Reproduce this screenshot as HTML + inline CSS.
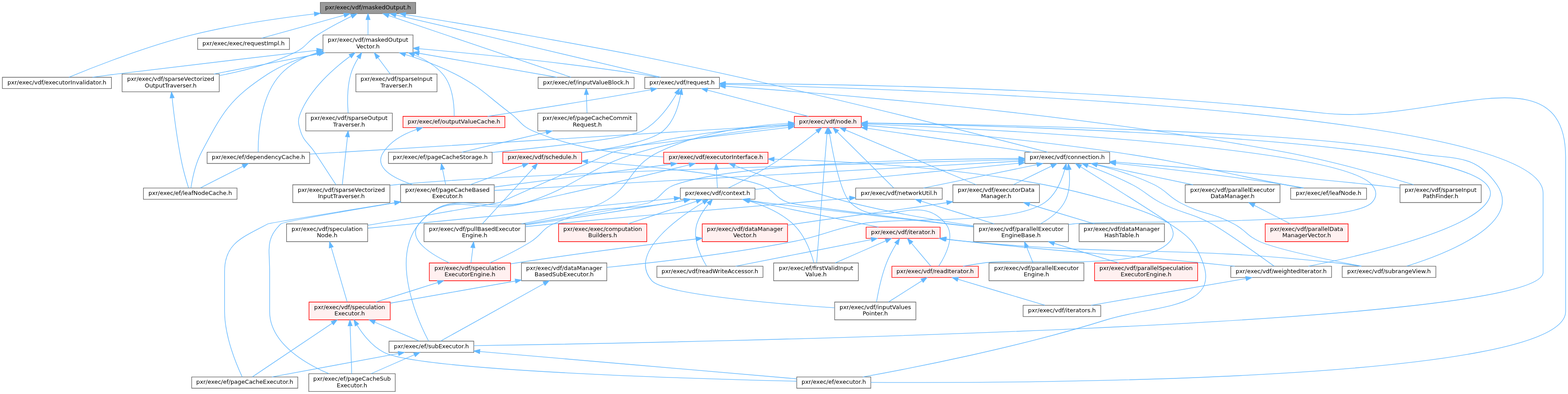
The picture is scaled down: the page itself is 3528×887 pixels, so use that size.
<!DOCTYPE html>
<html lang="en">
<head>
<meta charset="utf-8">
<title>pxr/exec/vdf/maskedOutput.h</title>
<style>
html,body{margin:0;padding:0;background:#ffffff;}
svg{display:block;will-change:transform;}
svg text{font-family:"DejaVu Sans","Liberation Sans",sans-serif;font-size:9.75px;text-anchor:middle;fill:#000000;}
</style>
</head>
<body>
<svg width="3528" height="886.667" viewBox="0 0 2646 665">
<g class="graph" transform="scale(1 1) rotate(0) translate(4 661)">
<g class="node">
<polygon fill="#999999" stroke="#666666" points="697.5,-657 536.5,-657 536.5,-638 697.5,-638 697.5,-657"/>
<text x="617" y="-645.15">pxr/exec/vdf/maskedOutput.h</text>
</g>
<g class="node">
<polygon fill="white" stroke="#666666" points="1066,-530.5 904,-530.5 904,-511.5 1066,-511.5 1066,-530.5"/>
<text x="985" y="-518.65">pxr/exec/ef/inputValueBlock.h</text>
</g>
<g class="edge">
<path fill="none" stroke="#63b8ff" d="M652.03,-634.65C725.69,-609.73 895.13,-552.41 959.53,-530.62"/>
<polygon fill="#63b8ff" stroke="#63b8ff" points="650.65,-631.42 642.29,-637.94 652.89,-638.05 650.65,-631.42"/>
</g>
<g class="node">
<polygon fill="white" stroke="#666666" points="484.5,-596.5 329.5,-596.5 329.5,-577.5 484.5,-577.5 484.5,-596.5"/>
<text x="407" y="-584.65">pxr/exec/exec/requestImpl.h</text>
</g>
<g class="edge">
<path fill="none" stroke="#63b8ff" d="M576.62,-635.25C536.01,-623.94 474.29,-606.75 437.57,-596.52"/>
<polygon fill="#63b8ff" stroke="#63b8ff" points="575.89,-638.68 586.46,-637.99 577.77,-631.94 575.89,-638.68"/>
</g>
<g class="node">
<polygon fill="white" stroke="#666666" points="1868.5,-404 1725.5,-404 1725.5,-385 1868.5,-385 1868.5,-404"/>
<text x="1797" y="-392.15">pxr/exec/vdf/connection.h</text>
</g>
<g class="edge">
<path fill="none" stroke="#63b8ff" d="M680.68,-636.36C734.62,-627.66 813.97,-614.55 883,-602 1032.73,-574.78 1070.36,-568.65 1219,-536 1427.54,-490.2 1676.24,-426.74 1764.21,-404.01"/>
<polygon fill="#63b8ff" stroke="#63b8ff" points="679.89,-632.95 670.57,-637.99 681,-639.86 679.89,-632.95"/>
</g>
<g class="node">
<polygon fill="white" stroke="#666666" points="184,-530.5 0,-530.5 0,-511.5 184,-511.5 184,-530.5"/>
<text x="92" y="-518.65">pxr/exec/vdf/executorInvalidator.h</text>
</g>
<g class="edge">
<path fill="none" stroke="#63b8ff" d="M526.38,-637.42C467.11,-630.38 388.29,-618.94 320,-602 241.42,-582.51 151.73,-546.94 112.35,-530.61"/>
<polygon fill="#63b8ff" stroke="#63b8ff" points="526.13,-640.91 536.47,-638.6 526.94,-633.96 526.13,-640.91"/>
</g>
<g class="node">
<polygon fill="white" stroke="#666666" points="693,-602 541,-602 541,-572 693,-572 693,-602"/>
<text x="617" y="-590.15">pxr/exec/vdf/maskedOutput</text>
<text x="617" y="-579.15">Vector.h</text>
</g>
<g class="edge">
<path fill="none" stroke="#63b8ff" d="M617,-627.65C617,-619.36 617,-609.78 617,-602.11"/>
<polygon fill="#63b8ff" stroke="#63b8ff" points="613.5,-627.87 617,-637.87 620.5,-627.87 613.5,-627.87"/>
</g>
<g class="node">
<polygon fill="white" stroke="#666666" points="1210,-530.5 1084,-530.5 1084,-511.5 1210,-511.5 1210,-530.5"/>
<text x="1147" y="-518.65">pxr/exec/vdf/request.h</text>
</g>
<g class="edge">
<path fill="none" stroke="#63b8ff" d="M664.16,-635.63C703.03,-626.66 759.61,-613.57 809,-602 919.09,-576.21 1049.23,-545.29 1111,-530.58"/>
<polygon fill="#63b8ff" stroke="#63b8ff" points="663.14,-632.28 654.18,-637.94 664.71,-639.1 663.14,-632.28"/>
</g>
<g class="node">
<polygon fill="white" stroke="#666666" points="366,-536 202,-536 202,-506 366,-506 366,-536"/>
<text x="284" y="-524.15">pxr/exec/vdf/sparseVectorized</text>
<text x="284" y="-513.15">OutputTraverser.h</text>
</g>
<g class="edge">
<path fill="none" stroke="#63b8ff" d="M588.91,-633.33C572.01,-625.03 550.3,-613.7 532,-602 513.58,-590.22 512.74,-581.42 493,-572 453.27,-553.04 405.76,-540.93 366.08,-533.39"/>
<polygon fill="#63b8ff" stroke="#63b8ff" points="587.72,-636.64 598.24,-637.84 590.77,-630.34 587.72,-636.64"/>
</g>
<g class="node">
<polygon fill="white" stroke="#666666" points="1070.5,-470 903.5,-470 903.5,-440 1070.5,-440 1070.5,-470"/>
<text x="987" y="-458.15">pxr/exec/ef/pageCacheCommit</text>
<text x="987" y="-447.15">Request.h</text>
</g>
<g class="edge">
<path fill="none" stroke="#63b8ff" d="M985.58,-501.35C985.89,-491.47 986.27,-479.51 986.55,-470.36"/>
<polygon fill="#63b8ff" stroke="#63b8ff" points="982.08,-501.26 985.27,-511.37 989.08,-501.48 982.08,-501.26"/>
</g>
<g class="node">
<polygon fill="white" stroke="#666666" points="826.5,-404 651.5,-404 651.5,-385 826.5,-385 826.5,-404"/>
<text x="739" y="-392.15">pxr/exec/ef/pageCacheStorage.h</text>
</g>
<g class="edge">
<path fill="none" stroke="#63b8ff" d="M917.64,-437.64C871.41,-426.73 812.51,-412.84 775.26,-404.05"/>
<polygon fill="#63b8ff" stroke="#63b8ff" points="917.06,-441.1 927.6,-439.99 918.67,-434.29 917.06,-441.1"/>
</g>
<g class="node">
<polygon fill="white" stroke="#666666" points="830,-349 672,-349 672,-319 830,-319 830,-349"/>
<text x="751" y="-337.15">pxr/exec/ef/pageCacheBased</text>
<text x="751" y="-326.15">Executor.h</text>
</g>
<g class="edge">
<path fill="none" stroke="#63b8ff" d="M742.81,-374.93C744.52,-366.58 746.51,-356.87 748.1,-349.11"/>
<polygon fill="#63b8ff" stroke="#63b8ff" points="739.35,-374.37 740.77,-384.87 746.21,-375.78 739.35,-374.37"/>
</g>
<g class="node">
<polygon fill="white" stroke="#666666" points="498.5,-24.5 319.5,-24.5 319.5,-5.5 498.5,-5.5 498.5,-24.5"/>
<text x="409" y="-12.65">pxr/exec/ef/pageCacheExecutor.h</text>
</g>
<g class="edge">
<path fill="none" stroke="#63b8ff" d="M661.77,-318.63C573.25,-304.32 450.39,-284.3 448,-283 405.7,-260.04 375,-251.13 375,-203 375,-203 375,-203 375,-135 375,-92.24 395.54,-44.05 404.69,-24.71"/>
<polygon fill="#63b8ff" stroke="#63b8ff" points="661.41,-322.12 671.84,-320.26 662.53,-315.21 661.41,-322.12"/>
</g>
<g class="node">
<polygon fill="white" stroke="#666666" points="663,-30 517,-30 517,0 663,0 663,-30"/>
<text x="590" y="-18.15">pxr/exec/ef/pageCacheSub</text>
<text x="590" y="-7.15">Executor.h</text>
</g>
<g class="edge">
<path fill="none" stroke="#63b8ff" d="M661.64,-318.29C580.72,-304.78 473.57,-286.37 470,-283 443.43,-257.91 451,-239.54 451,-203 451,-203 451,-203 451,-135 451,-82.11 509.8,-47.68 550.91,-30.07"/>
<polygon fill="#63b8ff" stroke="#63b8ff" points="661.43,-321.8 671.87,-319.99 662.58,-314.9 661.43,-321.8"/>
</g>
<g class="edge">
<path fill="none" stroke="#63b8ff" d="M1714.85,-388.91C1518.4,-377.92 1023.47,-350.24 830.12,-339.43"/>
<polygon fill="#63b8ff" stroke="#63b8ff" points="1714.92,-392.42 1725.1,-389.48 1715.32,-385.43 1714.92,-392.42"/>
</g>
<g class="node">
<polygon fill="white" stroke="#666666" points="2302,-343.5 2174,-343.5 2174,-324.5 2302,-324.5 2302,-343.5"/>
<text x="2238" y="-331.65">pxr/exec/ef/leafNode.h</text>
</g>
<g class="edge">
<path fill="none" stroke="#63b8ff" d="M1879.06,-385.22C1953.79,-377.29 2067.08,-364.29 2165,-349 2175.07,-347.43 2185.88,-345.49 2196.01,-343.57"/>
<polygon fill="#63b8ff" stroke="#63b8ff" points="1878.36,-381.77 1868.78,-386.3 1879.09,-388.74 1878.36,-381.77"/>
</g>
<g class="node">
<polygon fill="white" stroke="#666666" points="1270,-343.5 1144,-343.5 1144,-324.5 1270,-324.5 1270,-343.5"/>
<text x="1207" y="-331.65">pxr/exec/vdf/context.h</text>
</g>
<g class="edge">
<path fill="none" stroke="#63b8ff" d="M1715.09,-385.38C1596.03,-373.57 1377.67,-351.92 1270.18,-341.26"/>
<polygon fill="#63b8ff" stroke="#63b8ff" points="1714.95,-388.88 1725.24,-386.39 1715.64,-381.92 1714.95,-388.88"/>
</g>
<g class="node">
<polygon fill="#fff0f0" stroke="red" points="1647,-211.5 1501,-211.5 1501,-192.5 1647,-192.5 1647,-211.5"/>
<text x="1574" y="-199.65">pxr/exec/vdf/readIterator.h</text>
</g>
<g class="edge">
<path fill="none" stroke="#63b8ff" d="M1819.71,-379.39C1866.17,-350.47 1967.89,-286.86 1970,-283 1976.41,-271.31 1978.87,-262.95 1970,-253 1923.25,-200.58 1725.53,-226.91 1656,-217 1644.7,-215.39 1632.57,-213.44 1621.19,-211.51"/>
<polygon fill="#63b8ff" stroke="#63b8ff" points="1817.59,-376.59 1810.95,-384.84 1821.29,-382.53 1817.59,-376.59"/>
</g>
<g class="node">
<polygon fill="white" stroke="#666666" points="2419,-211.5 2261,-211.5 2261,-192.5 2419,-192.5 2419,-211.5"/>
<text x="2340" y="-199.65">pxr/exec/vdf/subrangeView.h</text>
</g>
<g class="edge">
<path fill="none" stroke="#63b8ff" d="M1847.22,-382.48C1876.33,-375.08 1913.2,-363.94 1944,-349 1964.97,-338.83 1966.47,-330.03 1987,-319 2025.32,-298.42 2039.57,-303.38 2078,-283 2098.91,-271.91 2100.31,-262.48 2122,-253 2152.33,-239.75 2238.96,-221.97 2293.44,-211.57"/>
<polygon fill="#63b8ff" stroke="#63b8ff" points="1846.14,-379.15 1837.27,-384.95 1847.82,-385.94 1846.14,-379.15"/>
</g>
<g class="node">
<polygon fill="white" stroke="#666666" points="2243,-211.5 2073,-211.5 2073,-192.5 2243,-192.5 2243,-211.5"/>
<text x="2158" y="-199.65">pxr/exec/vdf/weightedIterator.h</text>
</g>
<g class="edge">
<path fill="none" stroke="#63b8ff" d="M1831.64,-381.35C1853.67,-373.18 1882.55,-361.61 1907,-349 1929.02,-337.64 1932.02,-330.45 1954,-319 1991.11,-299.67 2004.2,-302.92 2041,-283 2062.42,-271.41 2120.7,-229.89 2146,-211.67"/>
<polygon fill="#63b8ff" stroke="#63b8ff" points="1830.23,-378.14 1822.04,-384.86 1832.64,-384.72 1830.23,-378.14"/>
</g>
<g class="node">
<polygon fill="white" stroke="#666666" points="1799,-283 1639,-283 1639,-253 1799,-253 1799,-283"/>
<text x="1719" y="-271.15">pxr/exec/vdf/parallelExecutor</text>
<text x="1719" y="-260.15">EngineBase.h</text>
</g>
<g class="edge">
<path fill="none" stroke="#63b8ff" d="M1800.11,-374.34C1801.7,-358.46 1801.62,-335.85 1792,-319 1783.01,-303.26 1766.8,-291.4 1751.94,-283.2"/>
<polygon fill="#63b8ff" stroke="#63b8ff" points="1796.6,-374.16 1798.76,-384.53 1803.54,-375.08 1796.6,-374.16"/>
</g>
<g class="node">
<polygon fill="white" stroke="#666666" points="882.5,-283 711.5,-283 711.5,-253 882.5,-253 882.5,-283"/>
<text x="797" y="-271.15">pxr/exec/vdf/pullBasedExecutor</text>
<text x="797" y="-260.15">Engine.h</text>
</g>
<g class="edge">
<path fill="none" stroke="#63b8ff" d="M1715.08,-393.44C1562.27,-392.43 1239.77,-385.84 1135,-349 1113.02,-341.27 1113.57,-327.83 1092,-319 1082.25,-315.01 966.36,-295.99 882.79,-282.6"/>
<polygon fill="#63b8ff" stroke="#63b8ff" points="1715.32,-396.94 1725.34,-393.5 1715.36,-389.94 1715.32,-396.94"/>
</g>
<g class="node">
<polygon fill="white" stroke="#666666" points="1020,-217 876,-217 876,-187 1020,-187 1020,-217"/>
<text x="948" y="-205.15">pxr/exec/vdf/dataManager</text>
<text x="948" y="-194.15">BasedSubExecutor.h</text>
</g>
<g class="edge">
<path fill="none" stroke="#63b8ff" d="M1792.79,-374.7C1787.83,-357.24 1777.78,-332.05 1759,-319 1702.05,-279.42 1517.16,-295.78 1449,-283 1397.08,-273.26 1385.85,-263.08 1334,-253 1225.55,-231.92 1098.18,-217.37 1020.29,-209.61"/>
<polygon fill="#63b8ff" stroke="#63b8ff" points="1789.51,-376 1795.35,-384.84 1796.3,-374.29 1789.51,-376"/>
</g>
<g class="node">
<polygon fill="white" stroke="#666666" points="1750,-349 1604,-349 1604,-319 1750,-319 1750,-349"/>
<text x="1677" y="-337.15">pxr/exec/vdf/executorData</text>
<text x="1677" y="-326.15">Manager.h</text>
</g>
<g class="edge">
<path fill="none" stroke="#63b8ff" d="M1770.52,-380.59C1751.44,-371.29 1725.72,-358.75 1706.08,-349.18"/>
<polygon fill="#63b8ff" stroke="#63b8ff" points="1769.03,-383.76 1779.55,-384.99 1772.1,-377.47 1769.03,-383.76"/>
</g>
<g class="node">
<polygon fill="white" stroke="#666666" points="1586,-343.5 1440,-343.5 1440,-324.5 1586,-324.5 1586,-343.5"/>
<text x="1513" y="-331.65">pxr/exec/vdf/networkUtil.h</text>
</g>
<g class="edge">
<path fill="none" stroke="#63b8ff" d="M1745.85,-382.96C1691.02,-371.67 1605.06,-353.96 1554.35,-343.52"/>
<polygon fill="#63b8ff" stroke="#63b8ff" points="1745.2,-386.4 1755.7,-384.99 1746.62,-379.55 1745.2,-386.4"/>
</g>
<g class="node">
<polygon fill="white" stroke="#666666" points="2156,-349 1996,-349 1996,-319 2156,-319 2156,-349"/>
<text x="2076" y="-337.15">pxr/exec/vdf/parallelExecutor</text>
<text x="2076" y="-326.15">DataManager.h</text>
</g>
<g class="edge">
<path fill="none" stroke="#63b8ff" d="M1847.46,-382.92C1892.73,-373.43 1959.5,-359.43 2009.19,-349.01"/>
<polygon fill="#63b8ff" stroke="#63b8ff" points="1846.64,-379.52 1837.57,-384.99 1848.07,-386.37 1846.64,-379.52"/>
</g>
<g class="node">
<polygon fill="white" stroke="#666666" points="2495.5,-349 2358.5,-349 2358.5,-319 2495.5,-319 2495.5,-349"/>
<text x="2427" y="-337.15">pxr/exec/vdf/sparseInput</text>
<text x="2427" y="-326.15">PathFinder.h</text>
</g>
<g class="edge">
<path fill="none" stroke="#63b8ff" d="M1878.76,-387.28C1980.24,-379.36 2158.54,-364.8 2311,-349 2326.33,-347.41 2342.79,-345.53 2358.34,-343.67"/>
<polygon fill="#63b8ff" stroke="#63b8ff" points="1878.28,-383.8 1868.58,-388.07 1878.82,-390.78 1878.28,-383.8"/>
</g>
<g class="node">
<polygon fill="white" stroke="#666666" points="654,-349 490,-349 490,-319 654,-319 654,-349"/>
<text x="572" y="-337.15">pxr/exec/vdf/sparseVectorized</text>
<text x="572" y="-326.15">InputTraverser.h</text>
</g>
<g class="edge">
<path fill="none" stroke="#63b8ff" d="M1715.23,-391.5C1490.62,-385.81 867.38,-368.67 663,-349 660.14,-348.72 657.22,-348.42 654.29,-348.09"/>
<polygon fill="#63b8ff" stroke="#63b8ff" points="1715.21,-395 1725.3,-391.75 1715.39,-388 1715.21,-395"/>
</g>
<g class="node">
<polygon fill="white" stroke="#666666" points="1444.5,-217 1301.5,-217 1301.5,-187 1444.5,-187 1444.5,-217"/>
<text x="1373" y="-205.15">pxr/exec/ef/firstValidInput</text>
<text x="1373" y="-194.15">Value.h</text>
</g>
<g class="edge">
<path fill="none" stroke="#63b8ff" d="M1259.84,-321.68C1284.74,-314.15 1313.42,-302.03 1334,-283 1353.63,-264.85 1364.54,-234.7 1369.55,-217.05"/>
<polygon fill="#63b8ff" stroke="#63b8ff" points="1258.81,-318.33 1250.15,-324.44 1260.73,-325.07 1258.81,-318.33"/>
</g>
<g class="node">
<polygon fill="#fff0f0" stroke="red" points="1087.5,-283 938.5,-283 938.5,-253 1087.5,-253 1087.5,-283"/>
<text x="1013" y="-271.15">pxr/exec/exec/computation</text>
<text x="1013" y="-260.15">Builders.h</text>
</g>
<g class="edge">
<path fill="none" stroke="#63b8ff" d="M1171.25,-321.21C1138.65,-310.45 1090.43,-294.54 1055.79,-283.12"/>
<polygon fill="#63b8ff" stroke="#63b8ff" points="1170.24,-324.56 1180.84,-324.37 1172.44,-317.91 1170.24,-324.56"/>
</g>
<g class="node">
<polygon fill="white" stroke="#666666" points="1541.5,-151 1404.5,-151 1404.5,-121 1541.5,-121 1541.5,-151"/>
<text x="1473" y="-139.15">pxr/exec/vdf/inputValues</text>
<text x="1473" y="-128.15">Pointer.h</text>
</g>
<g class="edge">
<path fill="none" stroke="#63b8ff" d="M1182.96,-319.33C1139.38,-292.89 1055.45,-233.28 1096,-187 1115.96,-164.22 1301.01,-148.41 1404.22,-141.28"/>
<polygon fill="#63b8ff" stroke="#63b8ff" points="1181.2,-322.35 1191.58,-324.45 1184.77,-316.34 1181.2,-322.35"/>
</g>
<g class="node">
<polygon fill="#fff0f0" stroke="red" points="1582.5,-277.5 1457.5,-277.5 1457.5,-258.5 1582.5,-258.5 1582.5,-277.5"/>
<text x="1520" y="-265.65">pxr/exec/vdf/iterator.h</text>
</g>
<g class="edge">
<path fill="none" stroke="#63b8ff" d="M1258.78,-322.41C1320.29,-309.84 1421.68,-289.1 1478.36,-277.51"/>
<polygon fill="#63b8ff" stroke="#63b8ff" points="1257.98,-319 1248.89,-324.44 1259.39,-325.86 1257.98,-319"/>
</g>
<g class="node">
<polygon fill="white" stroke="#666666" points="1283.5,-211.5 1104.5,-211.5 1104.5,-192.5 1283.5,-192.5 1283.5,-211.5"/>
<text x="1194" y="-199.65">pxr/exec/vdf/readWriteAccessor.h</text>
</g>
<g class="edge">
<path fill="none" stroke="#63b8ff" d="M1191.61,-316.55C1184.12,-307.41 1175.91,-295.41 1172,-283 1163.95,-257.45 1179.21,-226.79 1188.16,-211.94"/>
<polygon fill="#63b8ff" stroke="#63b8ff" points="1189.19,-319.1 1198.4,-324.35 1194.47,-314.51 1189.19,-319.1"/>
</g>
<g class="edge">
<path fill="none" stroke="#63b8ff" d="M1261.22,-322.68C1268.86,-321.36 1276.62,-320.09 1284,-319 1318.12,-313.94 1522.52,-290.92 1638.59,-277.95"/>
<polygon fill="#63b8ff" stroke="#63b8ff" points="1260.54,-319.25 1251.3,-324.43 1261.76,-326.14 1260.54,-319.25"/>
</g>
<g class="edge">
<path fill="none" stroke="#63b8ff" d="M1151.13,-322.63C1144.02,-321.38 1136.84,-320.14 1130,-319 1046.09,-305.08 949.99,-290.83 882.67,-281.12"/>
<polygon fill="#63b8ff" stroke="#63b8ff" points="1150.98,-326.16 1161.44,-324.48 1152.21,-319.27 1150.98,-326.16"/>
</g>
<g class="node">
<polygon fill="#fff0f0" stroke="red" points="857.5,-217 720.5,-217 720.5,-187 857.5,-187 857.5,-217"/>
<text x="789" y="-205.15">pxr/exec/vdf/speculation</text>
<text x="789" y="-194.15">ExecutorEngine.h</text>
</g>
<g class="edge">
<path fill="none" stroke="#63b8ff" d="M1150.25,-322.67C1143.43,-321.43 1136.56,-320.19 1130,-319 1041.13,-302.92 1012.35,-320.09 930,-283 910.38,-274.16 910.23,-264.43 892,-253 869.77,-239.06 843.08,-226.2 822.44,-217.02"/>
<polygon fill="#63b8ff" stroke="#63b8ff" points="1149.71,-326.13 1160.18,-324.47 1150.96,-319.24 1149.71,-326.13"/>
</g>
<g class="node">
<polygon fill="white" stroke="#666666" points="616.5,-283 479.5,-283 479.5,-253 616.5,-253 616.5,-283"/>
<text x="548" y="-271.15">pxr/exec/vdf/speculation</text>
<text x="548" y="-260.15">Node.h</text>
</g>
<g class="edge">
<path fill="none" stroke="#63b8ff" d="M1133.69,-325.88C1005.41,-313.42 742,-287.84 616.9,-275.69"/>
<polygon fill="#63b8ff" stroke="#63b8ff" points="1133.52,-329.38 1143.81,-326.86 1134.2,-322.41 1133.52,-329.38"/>
</g>
<g class="edge">
<path fill="none" stroke="#63b8ff" d="M1490.97,-254.36C1466.33,-243.63 1430.99,-228.25 1405.42,-217.12"/>
<polygon fill="#63b8ff" stroke="#63b8ff" points="1489.61,-257.59 1500.17,-258.37 1492.4,-251.17 1489.61,-257.59"/>
</g>
<g class="edge">
<path fill="none" stroke="#63b8ff" d="M1508.6,-249.47C1502.95,-240.14 1496.4,-228.28 1492,-217 1483.34,-194.79 1477.89,-167.51 1475.15,-151.23"/>
<polygon fill="#63b8ff" stroke="#63b8ff" points="1505.77,-251.55 1514.05,-258.16 1511.7,-247.83 1505.77,-251.55"/>
</g>
<g class="edge">
<path fill="none" stroke="#63b8ff" d="M1533.82,-250.62C1544.21,-238.31 1558.06,-221.89 1566.49,-211.91"/>
<polygon fill="#63b8ff" stroke="#63b8ff" points="1531.06,-248.47 1527.28,-258.37 1536.41,-252.98 1531.06,-248.47"/>
</g>
<g class="edge">
<path fill="none" stroke="#63b8ff" d="M1466.47,-256.49C1402.45,-243.92 1296.52,-223.13 1237.37,-211.51"/>
<polygon fill="#63b8ff" stroke="#63b8ff" points="1465.89,-259.94 1476.37,-258.44 1467.23,-253.07 1465.89,-259.94"/>
</g>
<g class="edge">
<path fill="none" stroke="#63b8ff" d="M1591.23,-257.21C1604.12,-255.64 1617.45,-254.16 1630,-253 1905.73,-227.5 1976.7,-246.79 2252,-217 2265.07,-215.59 2279.17,-213.57 2292.16,-211.5"/>
<polygon fill="#63b8ff" stroke="#63b8ff" points="1590.5,-253.77 1581.01,-258.48 1591.37,-260.72 1590.5,-253.77"/>
</g>
<g class="edge">
<path fill="none" stroke="#63b8ff" d="M1593.03,-257.33C1605.36,-255.81 1618.04,-254.3 1630,-253 1805.68,-233.84 1850.12,-234.32 2026,-217 2043.32,-215.29 2061.9,-213.38 2079.5,-211.52"/>
<polygon fill="#63b8ff" stroke="#63b8ff" points="1592.27,-253.9 1582.78,-258.61 1593.14,-260.85 1592.27,-253.9"/>
</g>
<g class="edge">
<path fill="none" stroke="#63b8ff" d="M1551.77,-186.91C1534.99,-176.28 1512.07,-161.75 1495.28,-151.12"/>
<polygon fill="#63b8ff" stroke="#63b8ff" points="1550.06,-189.97 1560.38,-192.37 1553.81,-184.06 1550.06,-189.97"/>
</g>
<g class="node">
<polygon fill="white" stroke="#666666" points="1853.5,-145.5 1722.5,-145.5 1722.5,-126.5 1853.5,-126.5 1853.5,-145.5"/>
<text x="1788" y="-133.65">pxr/exec/vdf/iterators.h</text>
</g>
<g class="edge">
<path fill="none" stroke="#63b8ff" d="M1612.51,-189.48C1654.7,-176.87 1721.4,-156.92 1759.26,-145.6"/>
<polygon fill="#63b8ff" stroke="#63b8ff" points="1611.44,-186.15 1602.86,-192.37 1613.44,-192.86 1611.44,-186.15"/>
</g>
<g class="edge">
<path fill="none" stroke="#63b8ff" d="M2098.59,-190.72C2026.07,-178.18 1904.77,-157.2 1837.22,-145.51"/>
<polygon fill="#63b8ff" stroke="#63b8ff" points="2098.03,-194.18 2108.48,-192.44 2099.23,-187.28 2098.03,-194.18"/>
</g>
<g class="node">
<polygon fill="white" stroke="#666666" points="1825,-217 1665,-217 1665,-187 1825,-187 1825,-217"/>
<text x="1745" y="-205.15">pxr/exec/vdf/parallelExecutor</text>
<text x="1745" y="-194.15">Engine.h</text>
</g>
<g class="edge">
<path fill="none" stroke="#63b8ff" d="M1728.59,-243.39C1732.17,-234.59 1736.12,-224.86 1739.25,-217.16"/>
<polygon fill="#63b8ff" stroke="#63b8ff" points="1725.29,-242.21 1724.77,-252.8 1731.78,-244.85 1725.29,-242.21"/>
</g>
<g class="node">
<polygon fill="#fff0f0" stroke="red" points="2017,-217 1843,-217 1843,-187 2017,-187 2017,-217"/>
<text x="1930" y="-205.15">pxr/exec/vdf/parallelSpeculation</text>
<text x="1930" y="-194.15">ExecutorEngine.h</text>
</g>
<g class="edge">
<path fill="none" stroke="#63b8ff" d="M1775.08,-249.99C1809.03,-239.69 1851.81,-226.72 1883.8,-217.01"/>
<polygon fill="#63b8ff" stroke="#63b8ff" points="1773.86,-246.7 1765.3,-252.95 1775.89,-253.4 1773.86,-246.7"/>
</g>
<g class="edge">
<path fill="none" stroke="#63b8ff" d="M793.98,-242.83C792.9,-234.17 791.71,-224.7 790.77,-217.16"/>
<polygon fill="#63b8ff" stroke="#63b8ff" points="790.51,-243.31 795.22,-252.8 797.46,-242.44 790.51,-243.31"/>
</g>
<g class="node">
<polygon fill="#fff0f0" stroke="red" points="654.5,-151 517.5,-151 517.5,-121 654.5,-121 654.5,-151"/>
<text x="586" y="-139.15">pxr/exec/vdf/speculation</text>
<text x="586" y="-128.15">Executor.h</text>
</g>
<g class="edge">
<path fill="none" stroke="#63b8ff" d="M734.62,-183.86C702.03,-173.58 661.1,-160.68 630.45,-151.01"/>
<polygon fill="#63b8ff" stroke="#63b8ff" points="733.86,-187.29 744.45,-186.95 735.97,-180.61 733.86,-187.29"/>
</g>
<g class="edge">
<path fill="none" stroke="#63b8ff" d="M556.65,-115.27C517.58,-89 450.13,-43.65 421.96,-24.71"/>
<polygon fill="#63b8ff" stroke="#63b8ff" points="554.75,-118.21 565,-120.88 558.65,-112.4 554.75,-118.21"/>
</g>
<g class="edge">
<path fill="none" stroke="#63b8ff" d="M586.82,-110.69C587.63,-86.42 588.86,-49.95 589.53,-30.1"/>
<polygon fill="#63b8ff" stroke="#63b8ff" points="583.31,-110.77 586.47,-120.88 590.31,-111.01 583.31,-110.77"/>
</g>
<g class="node">
<polygon fill="white" stroke="#666666" points="1465.5,-24.5 1340.5,-24.5 1340.5,-5.5 1465.5,-5.5 1465.5,-24.5"/>
<text x="1403" y="-12.65">pxr/exec/ef/executor.h</text>
</g>
<g class="edge">
<path fill="none" stroke="#63b8ff" d="M598.44,-112.15C608.47,-96.2 624.16,-76.05 644,-66 705.37,-34.92 1169.7,-21.31 1340.34,-17.32"/>
<polygon fill="#63b8ff" stroke="#63b8ff" points="595.32,-110.56 593.2,-120.94 601.33,-114.14 595.32,-110.56"/>
</g>
<g class="node">
<polygon fill="white" stroke="#666666" points="795.5,-85 652.5,-85 652.5,-66 795.5,-66 795.5,-85"/>
<text x="724" y="-73.15">pxr/exec/ef/subExecutor.h</text>
</g>
<g class="edge">
<path fill="none" stroke="#63b8ff" d="M628.34,-117.05C653.35,-106.45 683.88,-93.51 703.62,-85.14"/>
<polygon fill="#63b8ff" stroke="#63b8ff" points="626.9,-113.86 619.05,-120.99 629.63,-120.31 626.9,-113.86"/>
</g>
<g class="edge">
<path fill="none" stroke="#63b8ff" d="M668.02,-64.1C607.25,-52.82 511.34,-35.01 454.86,-24.52"/>
<polygon fill="#63b8ff" stroke="#63b8ff" points="667.73,-67.61 678.2,-65.99 669,-60.73 667.73,-67.61"/>
</g>
<g class="edge">
<path fill="none" stroke="#63b8ff" d="M695.26,-61.95C673.8,-52.59 644.47,-39.78 622.22,-30.06"/>
<polygon fill="#63b8ff" stroke="#63b8ff" points="693.95,-65.2 704.52,-65.99 696.75,-58.78 693.95,-65.2"/>
</g>
<g class="edge">
<path fill="none" stroke="#63b8ff" d="M805.74,-67.46C942.96,-55.64 1216.69,-32.05 1340.1,-21.42"/>
<polygon fill="#63b8ff" stroke="#63b8ff" points="805.36,-63.98 795.7,-68.32 805.97,-70.95 805.36,-63.98"/>
</g>
<g class="edge">
<path fill="none" stroke="#63b8ff" d="M555.01,-243.04C562.88,-216.08 575.42,-173.21 581.87,-151.14"/>
<polygon fill="#63b8ff" stroke="#63b8ff" points="551.59,-242.26 552.14,-252.84 558.3,-244.22 551.59,-242.26"/>
</g>
<g class="edge">
<path fill="none" stroke="#63b8ff" d="M865.59,-186.43C801.82,-175.16 714.57,-159.73 654.58,-149.12"/>
<polygon fill="#63b8ff" stroke="#63b8ff" points="865.16,-189.91 875.61,-188.2 866.38,-183.01 865.16,-189.91"/>
</g>
<g class="edge">
<path fill="none" stroke="#63b8ff" d="M913.72,-181.94C864.35,-154.51 775.27,-104.99 739.49,-85.11"/>
<polygon fill="#63b8ff" stroke="#63b8ff" points="912.3,-185.16 922.74,-186.96 915.7,-179.04 912.3,-185.16"/>
</g>
<g class="node">
<polygon fill="white" stroke="#666666" points="1961,-283 1817,-283 1817,-253 1961,-253 1961,-283"/>
<text x="1889" y="-271.15">pxr/exec/vdf/dataManager</text>
<text x="1889" y="-260.15">HashTable.h</text>
</g>
<g class="edge">
<path fill="none" stroke="#63b8ff" d="M1733.35,-315.99C1767.46,-305.69 1810.44,-292.72 1842.58,-283.01"/>
<polygon fill="#63b8ff" stroke="#63b8ff" points="1732.09,-312.71 1723.52,-318.95 1734.11,-319.42 1732.09,-312.71"/>
</g>
<g class="node">
<polygon fill="#fff0f0" stroke="red" points="1325,-283 1181,-283 1181,-253 1325,-253 1325,-283"/>
<text x="1253" y="-271.15">pxr/exec/vdf/dataManager</text>
<text x="1253" y="-260.15">Vector.h</text>
</g>
<g class="edge">
<path fill="none" stroke="#63b8ff" d="M1593.54,-318.8C1479.77,-301.25 1449.38,-299.74 1339,-283 1334.51,-282.32 1329.9,-281.61 1325.24,-280.88"/>
<polygon fill="#63b8ff" stroke="#63b8ff" points="1593.28,-322.3 1603.7,-320.38 1594.35,-315.38 1593.28,-322.3"/>
</g>
<g class="edge">
<path fill="none" stroke="#63b8ff" d="M1170.72,-257.52C1092.46,-248.23 971.5,-233.14 867,-217 864.01,-216.54 860.96,-216.05 857.87,-215.55"/>
<polygon fill="#63b8ff" stroke="#63b8ff" points="1170.66,-261.04 1181,-258.74 1171.48,-254.09 1170.66,-261.04"/>
</g>
<g class="edge">
<path fill="none" stroke="#63b8ff" d="M1550.51,-321.35C1585.13,-310.59 1636.63,-294.59 1673.57,-283.12"/>
<polygon fill="#63b8ff" stroke="#63b8ff" points="1549.29,-318.06 1540.78,-324.37 1551.37,-324.74 1549.29,-318.06"/>
</g>
<g class="edge">
<path fill="none" stroke="#63b8ff" d="M1429.81,-326.37C1316.66,-317.24 1107.92,-299.99 930,-283 914.75,-281.54 898.52,-279.91 882.83,-278.28"/>
<polygon fill="#63b8ff" stroke="#63b8ff" points="1429.54,-329.86 1439.79,-327.18 1430.1,-322.89 1429.54,-329.86"/>
</g>
<g class="node">
<polygon fill="#fff0f0" stroke="red" points="2271,-283 2131,-283 2131,-253 2271,-253 2271,-283"/>
<text x="2201" y="-271.15">pxr/exec/vdf/parallelData</text>
<text x="2201" y="-260.15">ManagerVector.h</text>
</g>
<g class="edge">
<path fill="none" stroke="#63b8ff" d="M2112.37,-314.38C2131.93,-304.36 2155.65,-292.22 2173.63,-283.01"/>
<polygon fill="#63b8ff" stroke="#63b8ff" points="2110.74,-311.28 2103.43,-318.95 2113.93,-317.51 2110.74,-311.28"/>
</g>
<g class="edge">
<path fill="none" stroke="#63b8ff" d="M703.28,-570.99C775.79,-558.38 876.82,-540.81 936.12,-530.5"/>
<polygon fill="#63b8ff" stroke="#63b8ff" points="702.5,-567.58 693.25,-572.74 703.7,-574.47 702.5,-567.58"/>
</g>
<g class="edge">
<path fill="none" stroke="#63b8ff" d="M586.93,-566.05C559.2,-545.66 519.86,-511.21 503,-470 497.95,-457.66 499.14,-452.76 503,-440 508.57,-421.6 516.41,-420.05 527,-404 539.52,-385.02 553.85,-363 562.91,-349.04"/>
<polygon fill="#63b8ff" stroke="#63b8ff" points="584.96,-568.94 595.13,-571.92 589.04,-563.25 584.96,-568.94"/>
</g>
<g class="edge">
<path fill="none" stroke="#63b8ff" d="M530.47,-576.01C425.94,-563.9 256.23,-544.11 193,-536 179.74,-534.3 165.52,-532.38 152.06,-530.53"/>
<polygon fill="#63b8ff" stroke="#63b8ff" points="530.35,-579.52 540.69,-577.19 531.16,-572.56 530.35,-579.52"/>
</g>
<g class="node">
<polygon fill="white" stroke="#666666" points="518.5,-404 345.5,-404 345.5,-385 518.5,-385 518.5,-404"/>
<text x="432" y="-392.15">pxr/exec/ef/dependencyCache.h</text>
</g>
<g class="edge">
<path fill="none" stroke="#63b8ff" d="M531.09,-572C508.64,-564.6 486.22,-553.29 470,-536 433.86,-497.49 431.4,-428.21 431.72,-404.07"/>
<polygon fill="#63b8ff" stroke="#63b8ff" points="530.11,-575.36 540.7,-574.94 532.16,-568.66 530.11,-575.36"/>
</g>
<g class="node">
<polygon fill="white" stroke="#666666" points="396,-343.5 238,-343.5 238,-324.5 396,-324.5 396,-343.5"/>
<text x="317" y="-331.65">pxr/exec/ef/leafNodeCache.h</text>
</g>
<g class="edge">
<path fill="none" stroke="#63b8ff" d="M530.84,-570.75C502.91,-563.21 472.77,-552.14 448,-536 383.53,-494 371.95,-472.02 336,-404 325.32,-383.79 320.18,-356.98 318.13,-343.51"/>
<polygon fill="#63b8ff" stroke="#63b8ff" points="530.06,-574.17 540.62,-573.27 531.81,-567.39 530.06,-574.17"/>
</g>
<g class="node">
<polygon fill="#fff0f0" stroke="red" points="848,-464.5 676,-464.5 676,-445.5 848,-445.5 848,-464.5"/>
<text x="762" y="-452.65">pxr/exec/ef/outputValueCache.h</text>
</g>
<g class="edge">
<path fill="none" stroke="#63b8ff" d="M694.89,-568.38C712.84,-561.02 730.35,-550.63 743,-536 760.93,-515.27 762.65,-480.64 762.39,-464.61"/>
<polygon fill="#63b8ff" stroke="#63b8ff" points="693.58,-565.13 685.48,-571.96 696.08,-571.67 693.58,-565.13"/>
</g>
<g class="node">
<polygon fill="#fff0f0" stroke="red" points="1292,-404 1116,-404 1116,-385 1292,-385 1292,-404"/>
<text x="1204" y="-392.15">pxr/exec/vdf/executorInterface.h</text>
</g>
<g class="edge">
<path fill="none" stroke="#63b8ff" d="M679.82,-569.03C706.5,-560.71 737.49,-549.55 764,-536 809.13,-512.93 816.43,-500.38 857,-470 874.22,-457.1 875.23,-448.49 895,-440 965.34,-409.79 1052.13,-399.37 1115.8,-396.1"/>
<polygon fill="#63b8ff" stroke="#63b8ff" points="678.75,-565.7 670.2,-571.96 680.79,-572.39 678.75,-565.7"/>
</g>
<g class="edge">
<path fill="none" stroke="#63b8ff" d="M703.15,-578.75C795.42,-570.49 945.99,-555.55 1075,-536 1085.2,-534.45 1096.15,-532.49 1106.36,-530.52"/>
<polygon fill="#63b8ff" stroke="#63b8ff" points="702.67,-575.28 693.02,-579.65 703.29,-582.25 702.67,-575.28"/>
</g>
<g class="node">
<polygon fill="white" stroke="#666666" points="733.5,-536 596.5,-536 596.5,-506 733.5,-506 733.5,-536"/>
<text x="665" y="-524.15">pxr/exec/vdf/sparseInput</text>
<text x="665" y="-513.15">Traverser.h</text>
</g>
<g class="edge">
<path fill="none" stroke="#63b8ff" d="M633.86,-563.53C640.68,-554.43 648.35,-544.19 654.38,-536.16"/>
<polygon fill="#63b8ff" stroke="#63b8ff" points="630.85,-561.7 627.65,-571.8 636.45,-565.9 630.85,-561.7"/>
</g>
<g class="node">
<polygon fill="white" stroke="#666666" points="658,-470 512,-470 512,-440 658,-440 658,-470"/>
<text x="585" y="-458.15">pxr/exec/vdf/sparseOutput</text>
<text x="585" y="-447.15">Traverser.h</text>
</g>
<g class="edge">
<path fill="none" stroke="#63b8ff" d="M600.74,-563.37C595.7,-555.15 590.75,-545.53 588,-536 581.55,-513.7 582.24,-486.45 583.5,-470.2"/>
<polygon fill="#63b8ff" stroke="#63b8ff" points="597.96,-565.52 606.36,-571.98 603.83,-561.69 597.96,-565.52"/>
</g>
<g class="edge">
<path fill="none" stroke="#63b8ff" d="M533.96,-570.04C479.56,-559.59 409.14,-546.05 356.91,-536.01"/>
<polygon fill="#63b8ff" stroke="#63b8ff" points="533.44,-573.5 543.92,-571.95 534.76,-566.63 533.44,-573.5"/>
</g>
<g class="edge">
<path fill="none" stroke="#63b8ff" d="M405.91,-380.23C383.89,-369.03 353.01,-353.32 334.04,-343.67"/>
<polygon fill="#63b8ff" stroke="#63b8ff" points="404.53,-383.45 415.03,-384.87 407.71,-377.21 404.53,-383.45"/>
</g>
<g class="edge">
<path fill="none" stroke="#63b8ff" d="M699.1,-442.41C677.62,-435.12 655.8,-423.26 643,-404 625.94,-378.33 658.95,-360.24 692.85,-349.04"/>
<polygon fill="#63b8ff" stroke="#63b8ff" points="698.33,-445.83 708.92,-445.45 700.4,-439.15 698.33,-445.83"/>
</g>
<g class="edge">
<path fill="none" stroke="#63b8ff" d="M1128.06,-383.69C1045.5,-373.03 914.16,-356.07 830.3,-345.24"/>
<polygon fill="#63b8ff" stroke="#63b8ff" points="1127.76,-387.18 1138.13,-384.99 1128.66,-380.24 1127.76,-387.18"/>
</g>
<g class="edge">
<path fill="none" stroke="#63b8ff" d="M1204.97,-374.66C1205.5,-364.24 1206.14,-351.8 1206.56,-343.67"/>
<polygon fill="#63b8ff" stroke="#63b8ff" points="1201.46,-374.7 1204.44,-384.87 1208.45,-375.06 1201.46,-374.7"/>
</g>
<g class="edge">
<path fill="none" stroke="#63b8ff" d="M1236.04,-381.34C1279.62,-365.19 1360.25,-336.65 1431,-319 1500.43,-301.68 1580.74,-288.27 1638.89,-279.72"/>
<polygon fill="#63b8ff" stroke="#63b8ff" points="1234.7,-378.11 1226.56,-384.88 1237.15,-384.67 1234.7,-378.11"/>
</g>
<g class="edge">
<path fill="none" stroke="#63b8ff" d="M1302.53,-392.21C1414.19,-389.23 1601.18,-379.61 1759,-349 1807.23,-339.65 1929.04,-310.14 1970,-283 2002.07,-261.75 2012.74,-253.11 2026,-217 2054.97,-138.07 1943.21,-146.21 1863,-121 1716.09,-74.82 1536.87,-39.84 1452.03,-24.51"/>
<polygon fill="#63b8ff" stroke="#63b8ff" points="1302.2,-388.72 1292.29,-392.47 1302.38,-395.72 1302.2,-388.72"/>
</g>
<g class="edge">
<path fill="none" stroke="#63b8ff" d="M1159.23,-382.59C1097.45,-367.65 982.5,-340.26 884,-319 803.83,-301.7 755.03,-346.4 703,-283 653.39,-222.55 702.97,-116.21 719.23,-85.21"/>
<polygon fill="#63b8ff" stroke="#63b8ff" points="1158.5,-386.02 1169.04,-384.97 1160.15,-379.22 1158.5,-386.02"/>
</g>
<g class="edge">
<path fill="none" stroke="#63b8ff" d="M1137.77,-502.67C1126.72,-483.83 1106.38,-454.47 1080,-440 1058.21,-428.05 920.52,-412.82 826.91,-403.63"/>
<polygon fill="#63b8ff" stroke="#63b8ff" points="1134.73,-504.42 1142.68,-511.43 1140.84,-501 1134.73,-504.42"/>
</g>
<g class="edge">
<path fill="none" stroke="#63b8ff" d="M1220.16,-519.99C1395.1,-519.24 1851.16,-512.95 2229,-470 2412.59,-449.13 2638,-580.27 2638,-395.5 2638,-395.5 2638,-395.5 2638,-135 2638,-15.92 1716.57,-13.77 1465.52,-15.39"/>
<polygon fill="#63b8ff" stroke="#63b8ff" points="1220.03,-516.49 1210.05,-520.03 1220.06,-523.49 1220.03,-516.49"/>
</g>
<g class="edge">
<path fill="none" stroke="#63b8ff" d="M1220.54,-518.46C1515.89,-511.33 2600,-475.58 2600,-335 2600,-335 2600,-335 2600,-201 2600,-108.81 1138.73,-82.37 795.54,-77.43"/>
<polygon fill="#63b8ff" stroke="#63b8ff" points="1220.28,-514.97 1210.37,-518.7 1220.45,-521.97 1220.28,-514.97"/>
</g>
<g class="edge">
<path fill="none" stroke="#63b8ff" d="M1220.24,-515.29C1388.35,-503.69 1814.38,-469.79 2165,-404 2241.97,-389.56 2329.65,-364.71 2381.55,-349.11"/>
<polygon fill="#63b8ff" stroke="#63b8ff" points="1219.76,-511.82 1210.02,-515.99 1220.24,-518.8 1219.76,-511.82"/>
</g>
<g class="edge">
<path fill="none" stroke="#63b8ff" d="M1094.3,-509.54C1087.8,-508.31 1081.25,-507.11 1075,-506 985.73,-490.19 881.73,-474.02 818.93,-464.5"/>
<polygon fill="#63b8ff" stroke="#63b8ff" points="1093.92,-513.03 1104.4,-511.47 1095.24,-506.16 1093.92,-513.03"/>
</g>
<g class="node">
<polygon fill="#fff0f0" stroke="red" points="1449.5,-464.5 1336.5,-464.5 1336.5,-445.5 1449.5,-445.5 1449.5,-464.5"/>
<text x="1393" y="-452.65">pxr/exec/vdf/node.h</text>
</g>
<g class="edge">
<path fill="none" stroke="#63b8ff" d="M1189.8,-508.86C1238.33,-496.24 1316.37,-475.94 1360.27,-464.51"/>
<polygon fill="#63b8ff" stroke="#63b8ff" points="1188.72,-505.53 1179.92,-511.44 1190.48,-512.3 1188.72,-505.53"/>
</g>
<g class="node">
<polygon fill="#fff0f0" stroke="red" points="977.5,-404 844.5,-404 844.5,-385 977.5,-385 977.5,-404"/>
<text x="911" y="-392.15">pxr/exec/vdf/schedule.h</text>
</g>
<g class="edge">
<path fill="none" stroke="#63b8ff" d="M1144.62,-501.44C1141.26,-483.07 1133.34,-455.53 1115,-440 1094.42,-422.58 1028.88,-410.38 977.58,-403.21"/>
<polygon fill="#63b8ff" stroke="#63b8ff" points="1141.19,-502.15 1146.18,-511.5 1148.11,-501.08 1141.19,-502.15"/>
</g>
<g class="edge">
<path fill="none" stroke="#63b8ff" d="M1459.74,-444.34C1537.32,-433.1 1664.13,-414.74 1738.16,-404.02"/>
<polygon fill="#63b8ff" stroke="#63b8ff" points="1459,-440.91 1449.6,-445.8 1460,-447.83 1459,-440.91"/>
</g>
<g class="edge">
<path fill="none" stroke="#63b8ff" d="M1459.76,-448.96C1553.49,-441.46 1729.27,-425.88 1878,-404 2006.49,-385.1 2037.45,-373.45 2165,-349 2174.25,-347.23 2184.16,-345.33 2193.61,-343.52"/>
<polygon fill="#63b8ff" stroke="#63b8ff" points="1459.27,-445.49 1449.58,-449.77 1459.82,-452.46 1459.27,-445.49"/>
</g>
<g class="edge">
<path fill="none" stroke="#63b8ff" d="M1374.62,-438.88C1356.47,-424.27 1327.64,-401.93 1301,-385 1275.57,-368.84 1244.42,-352.99 1225.14,-343.6"/>
<polygon fill="#63b8ff" stroke="#63b8ff" points="1372.65,-441.79 1382.62,-445.37 1377.06,-436.35 1372.65,-441.79"/>
</g>
<g class="edge">
<path fill="none" stroke="#63b8ff" d="M1391.5,-435.12C1387.65,-386.84 1377.52,-259.71 1374.13,-217.13"/>
<polygon fill="#63b8ff" stroke="#63b8ff" points="1388.03,-435.67 1392.31,-445.36 1395.01,-435.11 1388.03,-435.67"/>
</g>
<g class="edge">
<path fill="none" stroke="#63b8ff" d="M1395.88,-435.16C1401.34,-401.94 1414.16,-334.95 1431,-319 1484.24,-268.58 1546.16,-340.22 1592,-283 1609.09,-261.67 1590.42,-227.33 1580.02,-211.5"/>
<polygon fill="#63b8ff" stroke="#63b8ff" points="1392.37,-434.94 1394.26,-445.36 1399.29,-436.03 1392.37,-434.94"/>
</g>
<g class="edge">
<path fill="none" stroke="#63b8ff" d="M1459.77,-453.28C1651.35,-450.81 2200.34,-440.62 2376,-404 2443.88,-389.85 2482.55,-406.02 2522,-349 2567.87,-282.71 2432.45,-231.26 2369.87,-211.63"/>
<polygon fill="#63b8ff" stroke="#63b8ff" points="1459.51,-449.79 1449.56,-453.41 1459.6,-456.79 1459.51,-449.79"/>
</g>
<g class="edge">
<path fill="none" stroke="#63b8ff" d="M1460.03,-452.97C1690.07,-448.72 2437.03,-428.85 2505,-349 2513.64,-338.85 2512.79,-329.82 2505,-319 2469.13,-269.19 2289.68,-228.48 2203.86,-211.51"/>
<polygon fill="#63b8ff" stroke="#63b8ff" points="1459.73,-449.47 1449.79,-453.15 1459.85,-456.47 1459.73,-449.47"/>
</g>
<g class="edge">
<path fill="none" stroke="#63b8ff" d="M1459.94,-451.48C1662.03,-443.18 2255.53,-413.46 2311,-349 2319.7,-338.89 2320.09,-328.76 2311,-319 2272.82,-277.99 1863.67,-289.36 1808,-283 1805.05,-282.66 1802.04,-282.3 1799.01,-281.91"/>
<polygon fill="#63b8ff" stroke="#63b8ff" points="1459.61,-447.99 1449.76,-451.89 1459.89,-454.98 1459.61,-447.99"/>
</g>
<g class="edge">
<path fill="none" stroke="#63b8ff" d="M1326.29,-452.74C1266.18,-449.24 1176.8,-438.07 1107,-404 1056.38,-379.29 1062.93,-345.08 1013,-319 989.29,-306.62 927.65,-292.94 876.25,-283.02"/>
<polygon fill="#63b8ff" stroke="#63b8ff" points="1326.25,-456.24 1336.42,-453.27 1326.62,-449.25 1326.25,-456.24"/>
</g>
<g class="edge">
<path fill="none" stroke="#63b8ff" d="M1326.16,-448.64C1261.02,-442.21 1159.7,-429.03 1075,-404 985.89,-377.67 972.56,-347.13 884,-319 805.83,-294.17 755.03,-346.4 703,-283 682.04,-257.46 722.05,-232.21 754.25,-217.11"/>
<polygon fill="#63b8ff" stroke="#63b8ff" points="1326.01,-452.14 1336.29,-449.61 1326.67,-445.17 1326.01,-452.14"/>
</g>
<g class="edge">
<path fill="none" stroke="#63b8ff" d="M1326.26,-450.45C1252.55,-445.23 1130.94,-432.78 1030,-404 1027.21,-403.2 841.78,-319.84 839,-319 833.67,-317.38 701.15,-294.86 616.8,-280.61"/>
<polygon fill="#63b8ff" stroke="#63b8ff" points="1326.12,-453.95 1336.33,-451.14 1326.59,-446.96 1326.12,-453.95"/>
</g>
<g class="edge">
<path fill="none" stroke="#63b8ff" d="M1422.68,-441.57C1476,-419.22 1587.66,-372.44 1643.58,-349"/>
<polygon fill="#63b8ff" stroke="#63b8ff" points="1421.3,-438.35 1413.42,-445.44 1424,-444.81 1421.3,-438.35"/>
</g>
<g class="edge">
<path fill="none" stroke="#63b8ff" d="M1409.05,-438.08C1434.68,-412.67 1484,-363.76 1504.12,-343.8"/>
<polygon fill="#63b8ff" stroke="#63b8ff" points="1406.27,-435.92 1401.63,-445.44 1411.2,-440.89 1406.27,-435.92"/>
</g>
<g class="edge">
<path fill="none" stroke="#63b8ff" d="M1326.43,-449.95C1156.81,-439.62 708.41,-412.33 518.71,-400.78"/>
<polygon fill="#63b8ff" stroke="#63b8ff" points="1326.28,-453.44 1336.47,-450.56 1326.7,-446.46 1326.28,-453.44"/>
</g>
<g class="edge">
<path fill="none" stroke="#63b8ff" d="M1326.26,-445.9C1234.24,-434.73 1069.4,-414.72 977.51,-403.57"/>
<polygon fill="#63b8ff" stroke="#63b8ff" points="1325.94,-449.39 1336.29,-447.12 1326.79,-442.44 1325.94,-449.39"/>
</g>
<g class="edge">
<path fill="none" stroke="#63b8ff" d="M878.06,-381.46C852.33,-372.05 816.52,-358.95 789.47,-349.06"/>
<polygon fill="#63b8ff" stroke="#63b8ff" points="877.14,-384.85 887.73,-384.99 879.54,-378.27 877.14,-384.85"/>
</g>
<g class="edge">
<path fill="none" stroke="#63b8ff" d="M987.73,-388.25C1079.43,-381.28 1227.03,-367.63 1279,-349 1302.33,-340.64 1302.7,-327.44 1326,-319 1340.51,-313.75 1527.89,-291.28 1638.58,-278.32"/>
<polygon fill="#63b8ff" stroke="#63b8ff" points="987.37,-384.77 977.66,-389.01 987.89,-391.75 987.37,-384.77"/>
</g>
<g class="edge">
<path fill="none" stroke="#63b8ff" d="M896.39,-377.54C873.95,-353.04 831.37,-306.53 809.97,-283.16"/>
<polygon fill="#63b8ff" stroke="#63b8ff" points="893.83,-379.93 903.16,-384.94 898.99,-375.2 893.83,-379.93"/>
</g>
<g class="edge">
<path fill="none" stroke="#63b8ff" d="M582.34,-429.69C579.69,-405.42 575.71,-368.95 573.54,-349.1"/>
<polygon fill="#63b8ff" stroke="#63b8ff" points="578.89,-430.32 583.46,-439.88 585.85,-429.56 578.89,-430.32"/>
</g>
<g class="edge">
<path fill="none" stroke="#63b8ff" d="M286.45,-495.56C289.4,-468.38 294.98,-423.28 303,-385 306.07,-370.35 311.04,-353.68 314.16,-343.76"/>
<polygon fill="#63b8ff" stroke="#63b8ff" points="282.95,-495.39 285.38,-505.7 289.91,-496.13 282.95,-495.39"/>
</g>
</g>
</svg>
</body>
</html>
